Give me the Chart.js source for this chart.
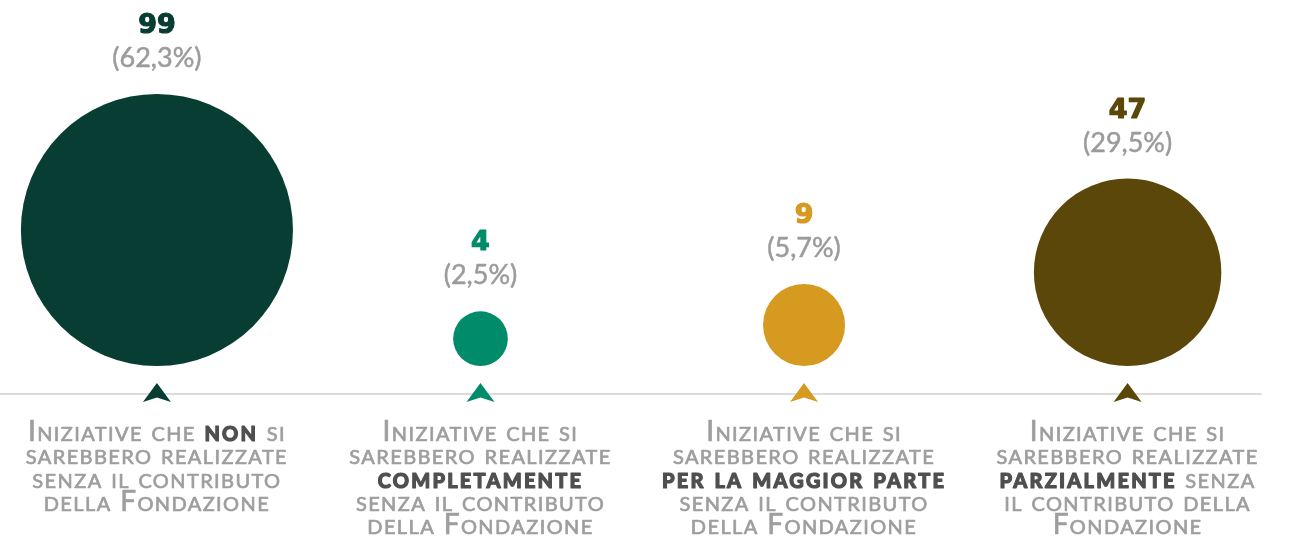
<!DOCTYPE html>
<html>
<head>
<meta charset="utf-8">
<script src="https://cdn.jsdelivr.net/npm/chart.js@4/dist/chart.umd.min.js"></script>
<style>
html,body{margin:0;padding:0;background:#ffffff;}
#wrap{width:1291px;height:542px;position:relative;}
</style>
</head>
<body>
<div id="wrap"><canvas id="c"></canvas></div>
<script>
// ---- data ----
const categories = ['non', 'completamente', 'per la maggior parte', 'parzialmente'];
const counts = [99, 4, 9, 47];
const percentLabels = ['(62,3%)', '(2,5%)', '(5,7%)', '(29,5%)'];
const colors = ['#073d33', '#008b6b', '#d69a21', '#5b4709'];
// category descriptions (text between * * is bold)
const descNon = ['Iniziative che *non* si', 'sarebbero realizzate', 'senza il contributo', 'della Fondazione'];
const descCompletamente = ['Iniziative che si', 'sarebbero realizzate', '*completamente*', 'senza il contributo', 'della Fondazione'];
const descMaggiorParte = ['Iniziative che si', 'sarebbero realizzate', '*per la maggior parte*', 'senza il contributo', 'della Fondazione'];
const descParzialmente = ['Iniziative che si', 'sarebbero realizzate', '*parzialmente* senza', 'il contributo della', 'Fondazione'];
const descriptions = [descNon, descCompletamente, descMaggiorParte, descParzialmente];

// ---- styles ----
const FAMILY = 'Lato, "Open Sans", sans-serif';
const GRAY = '#9e9e9e';
const DARK = '#4f4f4f';
const LINE_GAP = 28;      // gap between bubble bottoms and base line
const LINE_SPACING = 23.3;

function parseSegments(line) {
  const parts = line.split('*');
  return parts.map((t, i) => ({ text: t, bold: i % 2 === 1 })).filter(s => s.text.length);
}

function drawSmallCapsLine(ctx, line, cx, y) {
  const segs = parseSegments(line);
  ctx.save();
  ctx.textAlign = 'left';
  ctx.textBaseline = 'alphabetic';
  try { ctx.fontVariantCaps = 'small-caps'; } catch (e) {}
  const fonts = segs.map(s => (s.bold ? 'small-caps 900 28px ' : 'small-caps 400 28px ') + FAMILY);
  const spacing = segs.map(s => (s.bold ? '2.2px' : '1.4px'));
  let total = 0;
  const widths = segs.map((s, i) => {
    ctx.font = fonts[i];
    try { ctx.letterSpacing = spacing[i]; } catch (e) {}
    const w = ctx.measureText(s.text).width; total += w; return w;
  });
  let x = cx - total / 2;
  segs.forEach((s, i) => {
    ctx.font = fonts[i];
    try { ctx.letterSpacing = spacing[i]; } catch (e) {}
    ctx.fillStyle = s.bold ? DARK : GRAY;
    ctx.strokeStyle = s.bold ? DARK : GRAY;
    ctx.lineWidth = s.bold ? 1.1 : 0.7;
    ctx.lineJoin = 'round';
    ctx.fillText(s.text, x, y);
    ctx.strokeText(s.text, x, y);
    x += widths[i];
  });
  ctx.restore();
}

const annotatePlugin = {
  id: 'annotate',
  afterDatasetsDraw(chart) {
    const ctx = chart.ctx;
    const meta = chart.getDatasetMeta(0);
    const area = chart.chartArea;
    const baseY = area.bottom + LINE_GAP;
    // base line
    const lastPt = meta.data[meta.data.length - 1];
    ctx.save();
    ctx.strokeStyle = '#dcdcdc';
    ctx.lineWidth = 2;
    ctx.beginPath();
    ctx.moveTo(area.left, baseY);
    ctx.lineTo(lastPt.x + 134, baseY);
    ctx.stroke();
    ctx.restore();

    meta.data.forEach((el, i) => {
      const r = el.options.radius;
      const top = el.y - r;
      // arrow
      ctx.save();
      ctx.fillStyle = colors[i];
      ctx.beginPath();
      ctx.moveTo(el.x, baseY - 11);
      ctx.lineTo(el.x + 14, baseY + 8);
      ctx.lineTo(el.x, baseY + 3.5);
      ctx.lineTo(el.x - 14, baseY + 8);
      ctx.closePath();
      ctx.fill();
      ctx.restore();
      // value labels
      ctx.save();
      ctx.textAlign = 'center';
      ctx.textBaseline = 'alphabetic';
      ctx.fillStyle = colors[i];
      ctx.strokeStyle = colors[i];
      ctx.lineWidth = 1.2;
      ctx.lineJoin = 'round';
      ctx.font = 'bold 27px "DejaVu Sans", sans-serif';
      ctx.fillText(String(counts[i]), el.x, top - 61);
      ctx.strokeText(String(counts[i]), el.x, top - 61);
      ctx.fillStyle = '#9b9b9b';
      ctx.strokeStyle = '#9b9b9b';
      ctx.lineWidth = 0.5;
      ctx.font = '400 27px ' + FAMILY;
      ctx.fillText(percentLabels[i], el.x, top - 27);
      ctx.strokeText(percentLabels[i], el.x, top - 27);
      ctx.restore();
      // description
      descriptions[i].forEach((line, j) => {
        drawSmallCapsLine(ctx, line, el.x, baseY + 47 + j * LINE_SPACING);
      });
    });
  }
};

function sqrtUnitRadius(ctx) {
  const s = ctx.chart.scales.y;
  const unit = Math.abs(s.getPixelForValue(0) - s.getPixelForValue(1));
  return unit * Math.sqrt(counts[ctx.dataIndex]);
}

new Chart(document.getElementById('c'), {
  type: 'scatter',
  data: {
    labels: categories,
    datasets: [{
      label: 'Iniziative',
      data: counts.map((v, i) => ({ x: i, y: Math.sqrt(v) })),
      backgroundColor: colors,
      pointBackgroundColor: colors,
      pointBorderWidth: 0,
      pointBorderColor: 'rgba(0,0,0,0)',
      pointRadius: sqrtUnitRadius,
      pointHoverRadius: sqrtUnitRadius,
      clip: false
    }]
  },
  options: {
    responsive: true,
    maintainAspectRatio: false,
    animation: false,
    events: [],
    layout: { padding: { top: 0, left: 0, right: 0, bottom: 176 } },
    plugins: { legend: { display: false }, tooltip: { enabled: false } },
    scales: {
      x: { type: 'linear', min: -0.485, max: 3.505, display: false },
      y: { type: 'linear', min: 0, max: 26.77, display: false }
    }
  },
  plugins: [annotatePlugin]
});
</script>
</body>
</html>
